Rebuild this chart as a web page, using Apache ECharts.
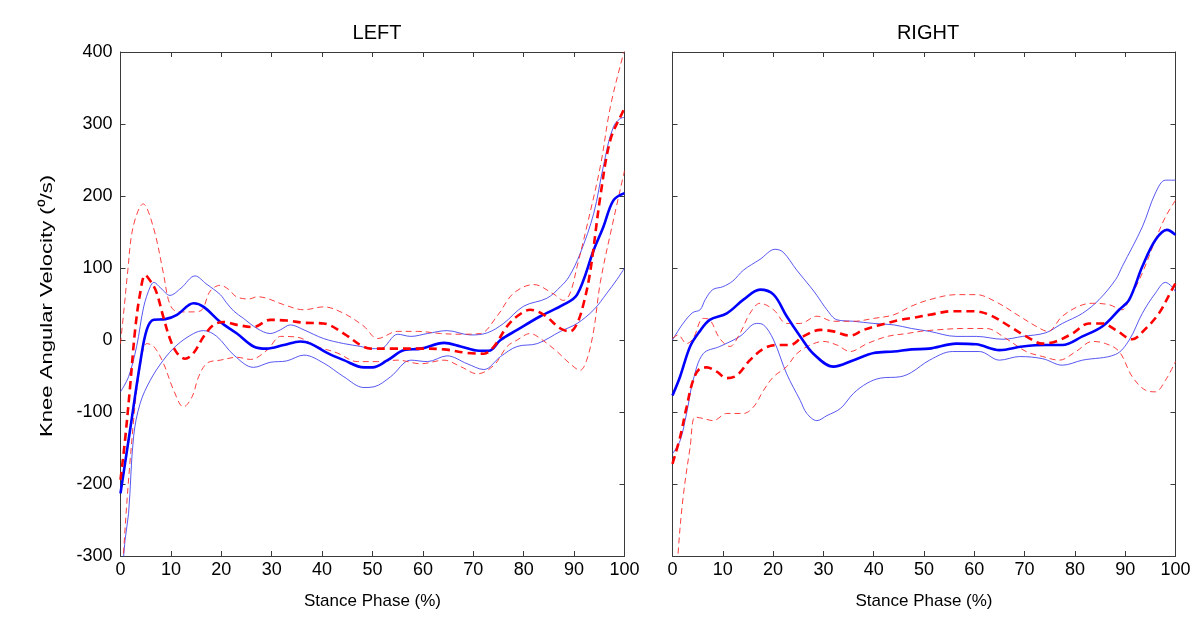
<!DOCTYPE html>
<html>
<head>
<meta charset="utf-8">
<script src="https://cdn.jsdelivr.net/npm/echarts@6/dist/echarts.min.js"></script>
<style>
html,body{margin:0;padding:0;background:#fff;}
#chart{width:1200px;height:617px;}
</style>
</head>
<body>
<div id="chart"></div>
<script>
// ---- Data (x = % stance phase, y = knee angular velocity deg/s) ----
var panelTitles = ['LEFT', 'RIGHT'];
var xTicks = [0, 10, 20, 30, 40, 50, 60, 70, 80, 90, 100];
var yTicks = [-300, -200, -100, 0, 100, 200, 300, 400];

// LEFT panel
var leftBlueMean = [[0,-213],[1.9,-125],[3.9,-32],[5.2,14],[6.6,28],[8.9,29],[11.2,35],[14.5,51],[16.5,46],[19.8,25],[23.1,9],[26.4,-9],[29,-12],[32.4,-7],[35.7,-2],[37.7,-5],[41,-18],[44.3,-28],[48.3,-38],[50,-38],[53,-28],[56.3,-14],[59.6,-12],[64.2,-4],[67.5,-9],[71.1,-15],[73.1,-15],[75.4,0],[78.7,14],[83.3,33],[87.9,49],[90.6,63],[93.9,125],[95.8,157],[97.8,194],[100,204]];
var leftBlueUpper = [[0,-72],[1.6,-51],[3.2,-9],[4.6,46],[5.9,74],[6.6,80],[8,72],[9.8,62],[12,72],[14.8,89],[17,78],[19.8,63],[21,52],[22.5,40],[24.4,30],[27.1,16],[29.7,9],[31.7,14],[33.7,21],[36.4,14],[40.3,2],[44.3,-5],[47.7,-9],[49.5,-12],[51.6,-12],[55,8],[57.6,5],[60.9,9],[64.8,13],[69.5,7],[72.8,10],[76,23],[80,47],[84.6,58],[87.3,74],[89,88],[91.2,120],[93.9,176],[95.8,241],[97.8,296],[99.8,309],[100,308]];
var leftBlueLower = [[0,-360],[0.9,-278],[1.6,-241],[2.6,-134],[3.9,-88],[5.9,-56],[8.5,-28],[11.2,-7],[14.5,9],[16.5,13],[19.1,5],[22.5,-21],[26.4,-38],[29.7,-31],[33,-29],[36.4,-21],[40.3,-32],[44.3,-51],[48.3,-66],[50.3,-65],[53.6,-51],[57.6,-28],[60.9,-30],[64.8,-22],[68.8,-33],[72.1,-41],[75.4,-23],[78.7,-9],[82.7,-5],[87.3,12],[90.6,23],[93.9,42],[96.5,65],[98.5,84],[100,100]];
var leftRedMean = [[0,-194],[0.9,-139],[1.9,-65],[2.9,14],[3.9,65],[4.9,90],[6.3,78],[7.2,65],[8.5,32],[9.9,0],[11.2,-18],[12.8,-26],[14.5,-18],[16.5,5],[18.5,21],[20.5,25],[23.1,21],[26.4,18],[29.7,28],[33,27],[36.4,24],[40.3,23],[44.3,9],[47.6,-7],[49.7,-12],[54.3,-12],[59.6,-12],[64.2,-13],[68.8,-18],[72.1,-19],[74.1,-9],[76.7,19],[78.7,33],[81.3,42],[84,35],[87.3,16],[89.2,12],[90.6,23],[91.9,51],[93.2,95],[95.2,199],[97.2,278],[99.8,319],[100,322]];
var leftRedUpper = [[0,-5],[0.8,50],[1.4,93],[2.5,157],[4.5,189],[6.5,157],[8.5,93],[9.5,56],[10.5,42],[12,39],[14,39],[16,41],[17.8,68],[19.8,76],[21.5,70],[23,60],[25.5,57],[27.1,60],[29,58],[32.4,49],[36.4,42],[40.3,46],[44.3,37],[48.3,19],[51,2],[55,12],[58.9,12],[63.5,9],[67.5,8],[71.4,9],[74.7,33],[78,65],[82,77],[85.9,64],[87.9,55],[89.2,65],[90.6,102],[92.5,157],[95.2,241],[97.2,324],[99.8,398],[100,400]];
var leftRedLower = [[0.3,-380],[0.6,-296],[2.6,-111],[3.9,-37],[5.2,-5],[6.6,-9],[8.5,-32],[10.5,-69],[12.5,-93],[14.2,-79],[15.5,-51],[17.2,-32],[19.8,-28],[23.1,-24],[25.8,-27],[29.1,-14],[31.8,5],[35,4],[39,-9],[43,-18],[47,-30],[51,-30],[55,-28],[59.6,-33],[64.2,-28],[67.5,-37],[70.8,-47],[74.1,-35],[76.7,-9],[78.7,0],[81.3,9],[83.3,2],[86.6,-16],[89.2,-33],[91.2,-42],[92.5,-28],[93.9,14],[95.2,80],[97.5,157],[100,235]];

// RIGHT panel
var rightBlueMean = [[0,-77],[1.5,-51],[3.5,-9],[5.4,12],[7.4,28],[10.8,37],[14.1,56],[17.4,70],[20.1,63],[22.7,33],[25.4,5],[28,-19],[32,-37],[36,-28],[40,-18],[44,-16],[47.5,-13],[51,-12],[56.4,-5],[60.4,-6],[65,-14],[69.6,-9],[74.2,-7],[77.5,-7],[81.5,5],[85.5,19],[88.8,42],[90.8,56],[93.4,102],[96,139],[98.3,153],[100,146]];
var rightBlueUpper = [[0,0],[2,22],[4,38],[5.5,42],[6.5,56],[8,70],[10,74],[12,82],[14.1,97],[17.4,112],[20.4,126],[22,122],[24.7,97],[27.4,74],[28.7,62],[30.7,42],[32.7,28],[36,26],[40,23],[44,21],[47.5,16],[51.1,12],[56.4,5],[60.4,5],[65.7,1],[69.6,5],[74.2,10],[77.5,23],[81.5,37],[84.8,56],[88.1,84],[89.4,102],[93.4,157],[96,204],[98,222],[100,222]];
var rightBlueLower = [[0,-158],[1.5,-140],[2.8,-102],[4.1,-56],[6.1,-19],[9.4,-9],[13.4,5],[16.7,23],[18.1,21],[20.1,0],[22.7,-47],[25.4,-84],[26.7,-102],[28.7,-112],[30.7,-105],[33.4,-95],[36,-74],[38.7,-60],[41.3,-53],[45.3,-51],[47.5,-45],[51.1,-28],[55.7,-16],[61,-16],[65,-28],[69,-23],[73.6,-26],[77.5,-35],[81.5,-28],[88.1,-20],[90.8,0],[93.4,37],[96,65],[98,80],[99.3,74],[100,67]];
var rightRedMean = [[0,-172],[1.5,-135],[2.8,-93],[4.1,-56],[5.4,-40],[6.8,-38],[8.8,-44],[10.8,-53],[12.8,-49],[15.4,-28],[18.1,-12],[20.7,-7],[23.4,-7],[26,5],[29.4,14],[32,12],[35.3,6],[38,14],[41.3,21],[45.3,28],[48,31],[51.1,35],[55.7,40],[59.7,40],[63,35],[67,19],[70.3,5],[73.6,-5],[76.2,-2],[79.5,9],[82.8,23],[85.5,23],[88.1,14],[91.4,1],[94.1,16],[96.7,37],[99.3,70],[100,79]];
var rightRedUpper = [[0,2],[1.1,7],[2.8,-5],[4.1,2],[6.1,30],[7.4,28],[9.4,2],[11.4,-9],[13.4,9],[15.4,37],[17.4,51],[20.1,42],[22.7,23],[25.4,23],[28.7,33],[32,26],[36,26],[40,30],[44,35],[47.5,47],[51.1,56],[56.4,63],[60.4,63],[64.3,53],[69,33],[72.3,19],[74.6,12],[77.5,33],[80.8,47],[83.5,51],[86.8,49],[89.4,42],[90.8,56],[93.4,93],[96,139],[98,171],[100,194]];
var rightRedLower = [[0.6,-380],[1.1,-298],[2.1,-219],[3.5,-149],[4.5,-107],[6.1,-109],[8.1,-112],[10.8,-102],[14.1,-102],[16.1,-93],[18.1,-70],[20.1,-51],[22.7,-37],[24.7,-19],[27.4,-7],[30,-2],[32.7,-7],[35.3,-16],[38.7,-5],[42.7,5],[46.6,9],[49.3,12],[52.4,14],[57.7,16],[62.4,16],[66.3,2],[70.3,-16],[73.6,-23],[76.9,-28],[80.2,-16],[83.5,-2],[86.1,-5],[88.8,-16],[91.4,-51],[94.1,-70],[96,-72],[98,-56],[100,-30]];

var xName = 'Stance Phase (%)';
var yName = 'Knee Angular Velocity (\u2070/s)';

// ---- Chart ----
var FONT = 'Liberation Sans, Arial, sans-serif';
var AXC = '#3a3a3a';
var chart = echarts.init(document.getElementById('chart'), null, {renderer: 'canvas'});

function xAx(grid, pos, labels) {
  return {
    type: 'value', gridIndex: grid, position: pos, min: 0, max: 100, interval: 10,
    axisLine: {show: true, onZero: false, lineStyle: {color: AXC, width: 1}},
    axisTick: {show: true, inside: true, length: 5, lineStyle: {color: AXC}},
    axisLabel: {show: labels, color: '#000', fontSize: 18, fontFamily: FONT, margin: 5},
    splitLine: {show: false},
    name: labels ? xName : '', nameLocation: 'middle', nameGap: 37,
    nameTextStyle: {color: '#000', fontSize: 17, fontFamily: FONT}
  };
}
function yAx(grid, pos, labels) {
  return {
    type: 'value', gridIndex: grid, position: pos, min: -300, max: 400, interval: 100,
    axisLine: {show: true, onZero: false, lineStyle: {color: AXC, width: 1}},
    axisTick: {show: true, inside: true, length: 5, lineStyle: {color: AXC}},
    axisLabel: {show: labels, color: '#000', fontSize: 18, fontFamily: FONT, margin: 8},
    splitLine: {show: false}
  };
}

function ser(data, xi, yi, kind) {
  var ls;
  if (kind === 'bm') ls = {color: '#0000ff', width: 2.6, type: 'solid'};
  else if (kind === 'bt') ls = {color: '#3a3af0', width: 1, type: 'solid', opacity: 0.85};
  else if (kind === 'rm') ls = {color: '#ff0000', width: 2.6, type: [8, 5]};
  else ls = {color: '#ff2a2a', width: 1, type: [6, 4], opacity: 0.9};
  return {
    type: 'line', xAxisIndex: xi, yAxisIndex: yi, data: data,
    smooth: 0.35, showSymbol: false, symbol: 'none', clip: true,
    lineStyle: ls, z: (kind === 'bm' || kind === 'rm') ? 3 : 2
  };
}

var option = {
  backgroundColor: '#fff',
  animation: false,
  title: [
    {text: panelTitles[0], left: 372, top: 18, textAlign: 'center',
     textStyle: {fontSize: 20, fontWeight: 'normal', color: '#000', fontFamily: FONT}},
    {text: panelTitles[1], left: 923, top: 18, textAlign: 'center',
     textStyle: {fontSize: 20, fontWeight: 'normal', color: '#000', fontFamily: FONT}}
  ],
  graphic: [{
    type: 'text', x: 47, y: 306, rotation: Math.PI / 2, scaleX: 1.3, scaleY: 1,
    style: {text: yName, font: '17px ' + FONT, fill: '#000', align: 'center', verticalAlign: 'middle'}
  }],
  grid: [
    {left: 120.5, top: 52, width: 504, height: 504, containLabel: false},
    {left: 672.5, top: 52, width: 503, height: 504, containLabel: false}
  ],
  xAxis: [xAx(0, 'bottom', true), xAx(0, 'top', false), xAx(1, 'bottom', true), xAx(1, 'top', false)],
  yAxis: [yAx(0, 'left', true), yAx(0, 'right', false), yAx(1, 'left', false), yAx(1, 'right', false)],
  series: [
    ser(leftBlueUpper, 0, 0, 'bt'),
    ser(leftBlueLower, 0, 0, 'bt'),
    ser(leftRedUpper, 0, 0, 'rt'),
    ser(leftRedLower, 0, 0, 'rt'),
    ser(leftBlueMean, 0, 0, 'bm'),
    ser(leftRedMean, 0, 0, 'rm'),
    ser(rightBlueUpper, 2, 2, 'bt'),
    ser(rightBlueLower, 2, 2, 'bt'),
    ser(rightRedUpper, 2, 2, 'rt'),
    ser(rightRedLower, 2, 2, 'rt'),
    ser(rightBlueMean, 2, 2, 'bm'),
    ser(rightRedMean, 2, 2, 'rm')
  ]
};
chart.setOption(option);
</script>
</body>
</html>
